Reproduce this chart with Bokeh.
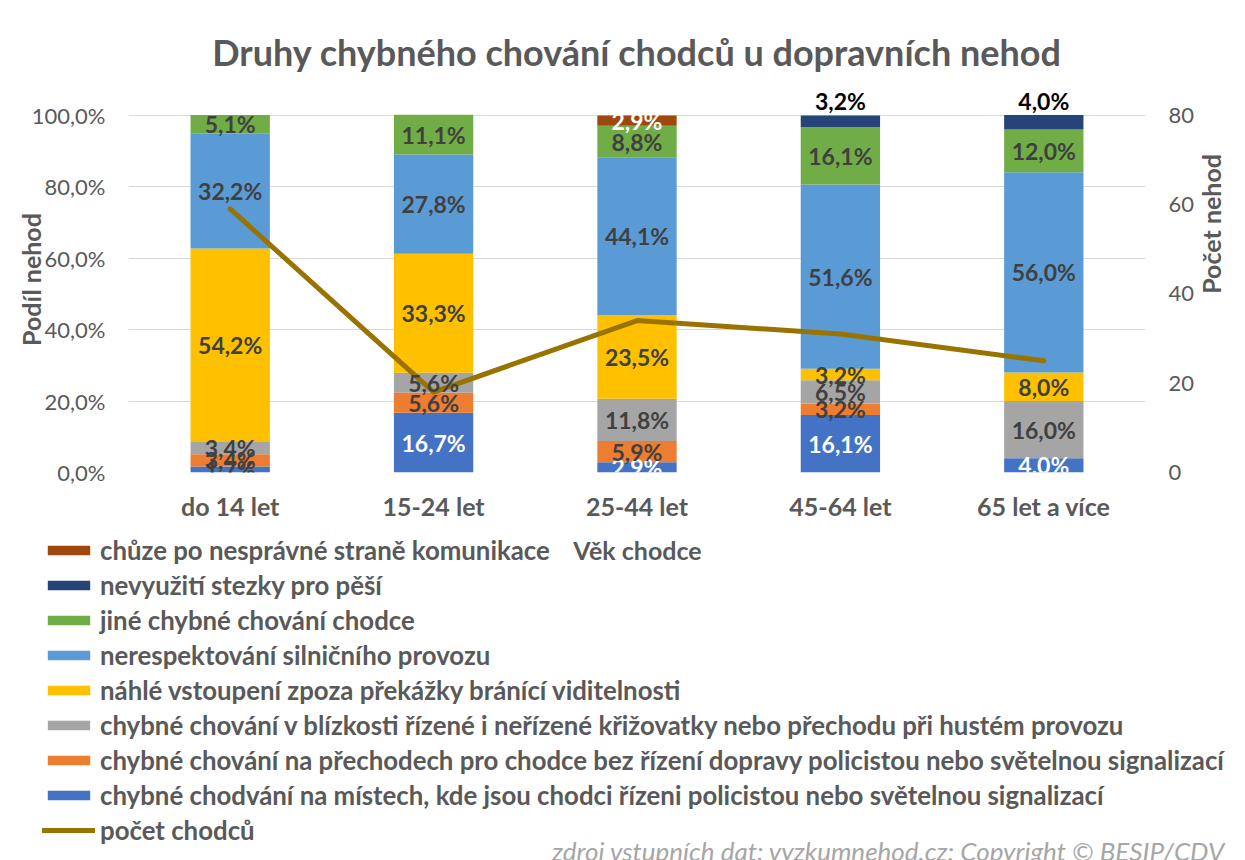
import math
from bokeh.plotting import figure
from bokeh.models import (ColumnDataSource, FactorRange, Range1d, LinearAxis, FixedTicker,
                          Legend, LegendItem, Label, LabelSet)
from bokeh.core.properties import value
from bokeh.embed import file_html
from bokeh.resources import INLINE

# ---------------- data ----------------
categories = ["do 14 let", "15-24 let", "25-44 let", "45-64 let", "65 let a více"]

series_names = [
    "chybné chodvání na místech, kde jsou chodci řízeni policistou nebo světelnou signalizací",
    "chybné chování na přechodech pro chodce bez řízení dopravy policistou nebo světelnou signalizací",
    "chybné chování v blízkosti řízené i neřízené křižovatky nebo přechodu při hustém provozu",
    "náhlé vstoupení zpoza překážky bránící viditelnosti",
    "nerespektování silničního provozu",
    "jiné chybné chování chodce",
    "nevyužití stezky pro pěší",
    "chůze po nesprávné straně komunikace",
]
s_rizeni = [1.7, 16.7, 2.9, 16.1, 4.0]
s_prechody = [3.4, 5.6, 5.9, 3.2, 0.0]
s_krizovatky = [3.4, 5.6, 11.8, 6.5, 16.0]
s_zpoza = [54.2, 33.3, 23.5, 3.2, 8.0]
s_nerespekt = [32.2, 27.8, 44.1, 51.6, 56.0]
s_jine = [5.1, 11.1, 8.8, 16.1, 12.0]
s_stezka = [0.0, 0.0, 0.0, 3.2, 4.0]
s_strana = [0.0, 0.0, 2.9, 0.0, 0.0]
line_name = "počet chodců"
pocet_chodcu = [59, 18, 34, 31, 25]

pct_ticks = [0, 20, 40, 60, 80, 100]
pct_tick_labels = ["0,0%", "20,0%", "40,0%", "60,0%", "80,0%", "100,0%"]
count_ticks = [0, 20, 40, 60, 80]

title_text = "Druhy chybného chování chodců u dopravních nehod"
left_title = "Podíl nehod"
right_title = "Počet nehod"
x_title = "Věk chodce"
source_text = "zdroj vstupních dat: vyzkumnehod.cz; Copyright © BESIP/CDV"

# ---------------- styles ----------------
colors = ["#4472C4", "#ED7D31", "#A5A5A5", "#FFC000", "#5B9BD5", "#70AD47", "#264478", "#9E480E"]
line_color = "#997300"
FONT = "Lato"
DARK = "#404040"
GREY = "#595959"

series_values = [s_rizeni, s_prechody, s_krizovatky, s_zpoza, s_nerespekt, s_jine, s_stezka, s_strana]
keys = ["s%d" % i for i in range(len(series_values))]

data = {"cat": categories}
for k, v in zip(keys, series_values):
    data[k] = v
source = ColumnDataSource(data)

W = 1245
TOP_H = 530
BOT_H = 330
PCT_TOP = 108          # head-room above 100 % for the outside labels
CNT_TOP = count_ticks[-1] * PCT_TOP / 100

p = figure(x_range=FactorRange(factors=categories, range_padding=0), y_range=Range1d(0, PCT_TOP),
           width=W, height=TOP_H, output_backend="svg", toolbar_location=None,
           min_border_left=128, min_border_right=100, min_border_top=86, min_border_bottom=58)
p.outline_line_color = None
p.background_fill_color = "white"
p.border_fill_color = "white"

renderers = p.vbar_stack(keys, x="cat", width=0.39, source=source, color=colors, line_color=None)

p.extra_y_ranges = {"count": Range1d(0, CNT_TOP)}
line_r = p.line(x=categories, y=pocet_chodcu, y_range_name="count", line_color=line_color,
                line_width=5, line_cap="round")

# data labels
lx, ly, lt, lc = [], [], [], []
tx, ty, tt = [], [], []
cum = [0.0] * len(categories)
for si, vals in enumerate(series_values):
    for ci, v in enumerate(vals):
        bottom = cum[ci]
        top = bottom + v
        cum[ci] = top
        if v <= 0:
            continue
        txt = ("%.1f%%" % v).replace(".", ",")
        if si == 6:
            tx.append(categories[ci]); ty.append(top); tt.append(txt)
            continue
        lx.append(categories[ci]); ly.append((bottom + top) / 2); lt.append(txt)
        if (si == 0 and v >= 2.5) or si == 7:
            lc.append("white")
        else:
            lc.append(DARK)

lab_src = ColumnDataSource(dict(x=lx, y=ly, text=lt, color=lc))
p.add_layout(LabelSet(x="x", y="y", text="text", source=lab_src, text_align="center",
                      text_baseline="middle", text_color="color", text_font=value(FONT),
                      text_font_size="23px", text_font_style="bold"))
top_src = ColumnDataSource(dict(x=tx, y=ty, text=tt))
p.add_layout(LabelSet(x="x", y="y", text="text", source=top_src, text_align="center",
                      text_baseline="bottom", y_offset=0, text_color="#000000",
                      text_font=value(FONT), text_font_size="23px", text_font_style="bold"))

# axes
p.xgrid.grid_line_color = None
p.ygrid.grid_line_color = "#D9D9D9"
p.ygrid.ticker = FixedTicker(ticks=pct_ticks)

ya = p.yaxis[0]
ya.ticker = FixedTicker(ticks=pct_ticks)
ya.major_label_overrides = {t: l for t, l in zip(pct_ticks, pct_tick_labels)}
ya.axis_label = left_title
ya.axis_label_text_font = FONT
ya.axis_label_text_font_size = "25px"
ya.axis_label_text_font_style = "bold"
ya.axis_label_text_color = GREY
ya.axis_label_standoff = -17

ra = LinearAxis(y_range_name="count", ticker=FixedTicker(ticks=count_ticks))
p.add_layout(ra, "right")

for ax in [ya, ra]:
    ax.axis_line_color = None
    ax.major_tick_line_color = None
    ax.minor_tick_line_color = None
    ax.major_tick_out = 0
    ax.major_tick_in = 0
    ax.minor_tick_out = 0
    ax.major_label_text_font = FONT
    ax.major_label_text_font_size = "22px"
    ax.major_label_text_color = GREY
    ax.major_label_standoff = 23

# right axis title (reads bottom-to-top), drawn as a single-tick axis
mid = count_ticks[-1] / 2
ra_title = LinearAxis(y_range_name="count", ticker=FixedTicker(ticks=[mid]),
                      major_label_overrides={mid: right_title},
                      major_label_orientation=math.pi / 2)
ra_title.axis_line_color = None
ra_title.major_tick_line_color = None
ra_title.minor_tick_line_color = None
ra_title.major_tick_out = 0
ra_title.major_tick_in = 0
ra_title.minor_tick_out = 0
ra_title.major_label_text_font = FONT
ra_title.major_label_text_font_size = "25px"
ra_title.major_label_text_font_style = "bold"
ra_title.major_label_text_color = GREY
ra_title.major_label_standoff = 14
p.add_layout(ra_title, "right")

xa = p.xaxis[0]
xa.axis_line_color = None
xa.major_tick_line_color = None
xa.major_tick_out = 0
xa.major_tick_in = 0
xa.major_label_text_font = FONT
xa.major_label_text_font_size = "25px"
xa.major_label_text_font_style = "bold"
xa.major_label_text_color = GREY
xa.major_label_standoff = 18

# title
p.title.text = title_text
p.title.align = "center"
p.title.text_font = FONT
p.title.text_font_size = "36px"
p.title.text_font_style = "bold"
p.title.text_color = GREY
p.title.standoff = 26

# ---------------- legend figure ----------------
q = figure(width=W, height=BOT_H, x_range=Range1d(0, 1), y_range=Range1d(0, 1),
           output_backend="svg", toolbar_location=None, x_axis_type=None, y_axis_type=None,
           min_border=0)
q.outline_line_color = None
q.background_fill_color = "white"
q.border_fill_color = "white"

nan = float("nan")
dummy = []
for c in colors:
    dummy.append(q.vbar(x=[nan], top=[nan], width=0.1, color=c, line_color=None))
dummy_line = q.line(x=[nan], y=[nan], line_color=line_color, line_width=5, line_cap="round")

items = [LegendItem(label=series_names[i], renderers=[dummy[i]]) for i in reversed(range(len(dummy)))]
items.append(LegendItem(label=line_name, renderers=[dummy_line]))
legend = Legend(items=items, location=(42, 15), orientation="vertical",
                label_text_font=FONT, label_text_font_size="25.8px", label_text_font_style="bold",
                label_text_color=GREY, glyph_width=53, glyph_height=12, label_standoff=5,
                spacing=5, padding=0, margin=0, border_line_color=None, background_fill_alpha=0)
q.add_layout(legend, "center")

q.add_layout(Label(x=637, y=BOT_H - 19, x_units="screen", y_units="screen", text=x_title,
                   text_align="center", text_baseline="middle", text_font=FONT,
                   text_font_size="25px", text_font_style="bold", text_color=GREY))
q.add_layout(Label(x=1225, y=10, x_units="screen", y_units="screen", text=source_text,
                   text_align="right", text_baseline="middle", text_font=FONT,
                   text_font_size="26px", text_font_style="italic", text_color="#A6A6A6"))

open("out.html", "w").write(file_html([p, q], INLINE))
